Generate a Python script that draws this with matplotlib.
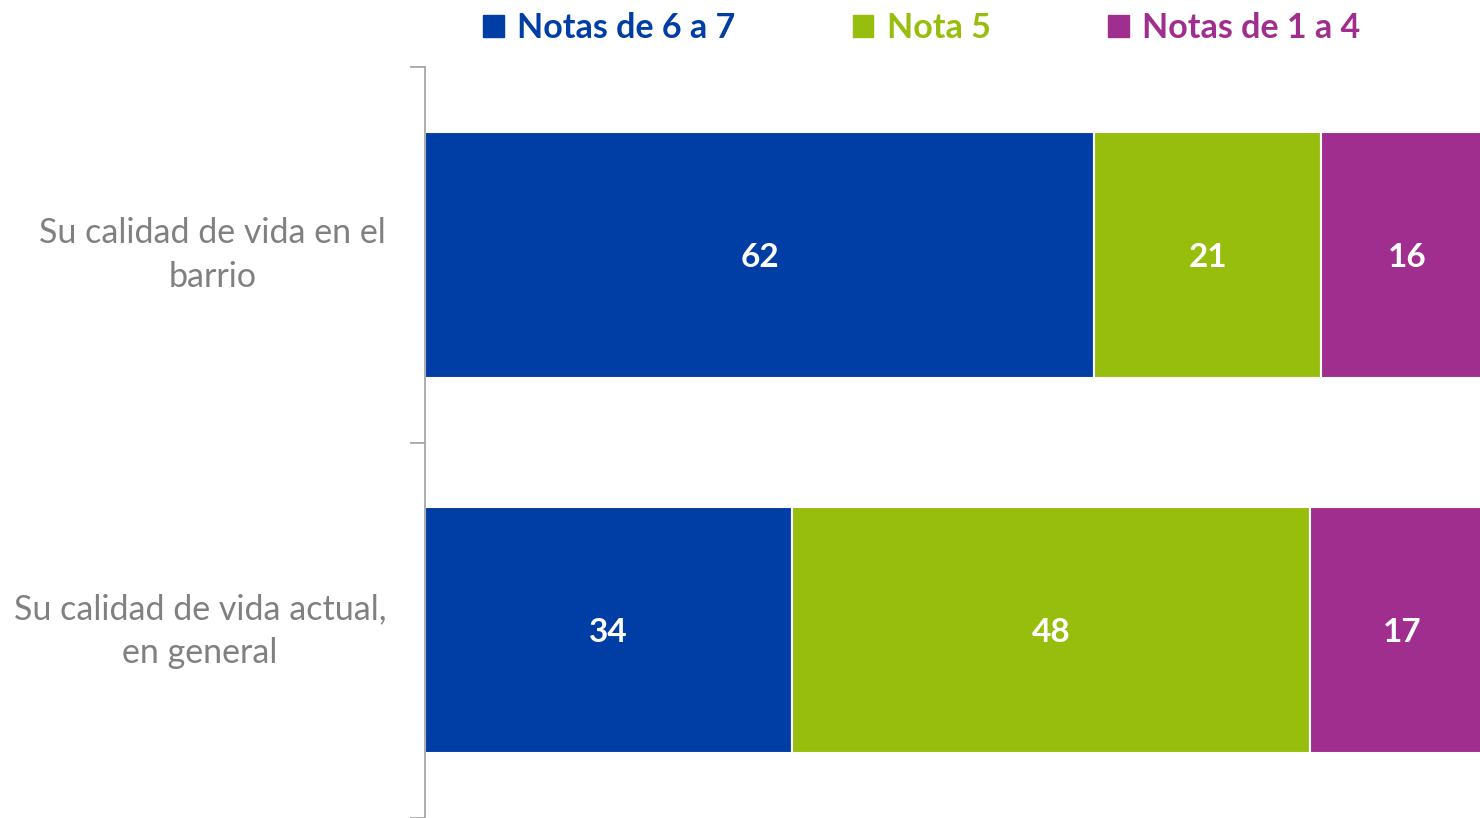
import matplotlib
matplotlib.use("Agg")
import matplotlib.pyplot as plt
import matplotlib.transforms as mtransforms
from matplotlib.patches import Patch
import numpy as np

categories = ["Su calidad de vida en el\nbarrio", "Su calidad de vida actual,\nen general"]
series = ["Notas de 6 a 7", "Nota 5", "Notas de 1 a 4"]
values_6_7 = [62, 34]
values_5 = [21, 48]
values_1_4 = [16, 17]
colors = ["#003DA5", "#97BE0D", "#A02E8F"]

plt.rcParams['font.family'] = ['Lato', 'DejaVu Sans']

fig = plt.figure(figsize=(14.8, 8.18), dpi=100)
ax = fig.add_axes([425/1480, 0.0, 1 - 425/1480, 1 - 67/818])

y = np.arange(len(categories))
left = np.zeros(len(categories))
for name, vals, col in zip(series, [values_6_7, values_5, values_1_4], colors):
    vals = np.array(vals, dtype=float)
    ax.barh(y, vals, left=left, height=0.655, color=col, edgecolor="white", linewidth=1.5, label=name)
    for yi, l, v in zip(y, left, vals):
        ax.text(l + v / 2, yi, f"{int(v)}", ha="center", va="center_baseline", color="white",
                fontsize=24, fontweight="bold")
    left += vals

ax.set_xlim(0, 97.7)
ax.set_ylim(1.5, -0.5)
ax.set_xticks([])
ax.set_yticks(y)
ax.set_yticklabels(categories, fontsize=24.5, color="#808080", ha="right",
                   multialignment="center", linespacing=1.45)
ax.tick_params(axis="y", which="major", length=0, pad=28)
offset = mtransforms.ScaledTranslation(0, 6 / 72, fig.dpi_scale_trans)
for lbl in ax.get_yticklabels():
    lbl.set_transform(lbl.get_transform() + offset)
ax.set_yticks([-0.5, 0.5, 1.5], minor=True)
ax.tick_params(axis="y", which="minor", length=11, color="#A0A0A0", width=1.2)
for s in ["top", "right", "bottom"]:
    ax.spines[s].set_visible(False)
ax.spines["left"].set_color("#A0A0A0")
ax.spines["left"].set_linewidth(1.2)

handles = [Patch(facecolor=c, edgecolor=c) for c in colors]
leg = fig.legend(handles, series, loc="center", bbox_to_anchor=(922/1480, 1 - 28/818), ncol=3,
                 frameon=False, prop={"size": 24.5, "weight": "bold"}, labelcolor=colors,
                 handlelength=0.6, handleheight=0.6, handletextpad=0.4, columnspacing=3.45)

fig.savefig("out.png", dpi=100)
